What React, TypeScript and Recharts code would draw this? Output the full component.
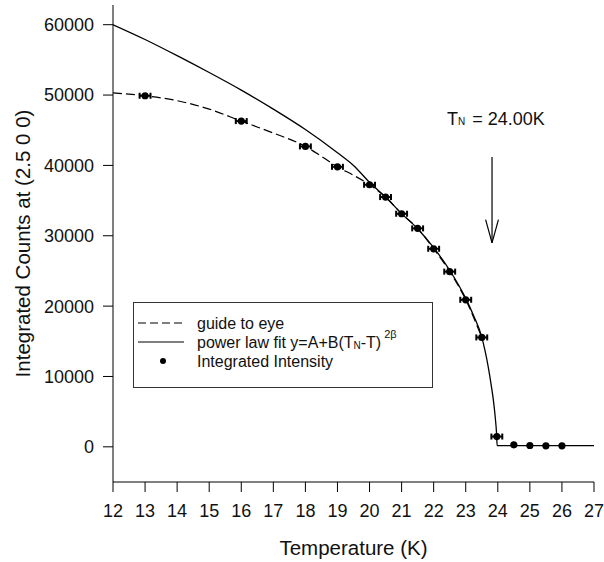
import React from 'react';
import { ComposedChart, Line, Scatter, XAxis, YAxis, ReferenceLine, ErrorBar } from 'recharts';

const FONT = '"Liberation Sans", Arial, Helvetica, sans-serif';

const xTicks = [12, 13, 14, 15, 16, 17, 18, 19, 20, 21, 22, 23, 24, 25, 26, 27];
const yTicks = [0, 10000, 20000, 30000, 40000, 50000, 60000];

// guide to eye (dashed)
const guideT = [12, 13, 14, 15, 16, 17, 18, 18.5, 19, 19.5, 20, 20.5, 21, 21.5, 22, 22.5, 23, 23.5];
const guideI = [50300, 49900, 49200, 48000, 46300, 44600, 42700, 41300, 39800, 38600, 37250, 35500, 33130, 31050, 28150, 24900, 20900, 15550];

// power law fit (solid)
const fitT = [12, 13, 14, 15, 16, 17, 18, 19, 19.5, 20, 20.5, 21, 21.5, 22, 22.5, 23, 23.25, 23.5, 23.6, 23.7, 23.8, 23.86, 23.92, 23.96, 23.98, 24.5, 25, 26, 27];
const fitI = [60000, 57900, 55600, 53200, 50700, 48000, 45100, 41800, 40000, 37600, 35500, 33150, 31000, 28300, 25100, 21100, 18600, 15600, 13700, 11400, 8600, 6700, 4200, 2000, 180, 180, 180, 180, 180];

// integrated intensity (points)
const pointT = [13, 16, 18, 19, 20, 20.5, 21, 21.5, 22, 22.5, 23, 23.5, 23.97, 24.5, 25, 25.5, 26];
const pointI = [49900, 46300, 42700, 39800, 37250, 35500, 33130, 31050, 28150, 24900, 20900, 15550, 1460, 280, 190, 140, 140];
const pointErr = [0.17, 0.17, 0.17, 0.17, 0.17, 0.17, 0.17, 0.17, 0.17, 0.17, 0.17, 0.17, 0.17, 0, 0, 0, 0];

// T_N arrow
const arrowT = 23.82;
const arrowTop = 41200;
const arrowTip = 29000;
const arrowHeadTop = 32300;
const arrowHeadHalf = 0.2;

const legendItems = ['guide to eye', 'power law fit', 'Integrated Intensity'];

const guideData = guideT.map((t, i) => ({ t, v: guideI[i] }));
const fitData = fitT.map((t, i) => ({ t, v: fitI[i] }));
const pointData = pointT.map((t, i) => ({ t, v: pointI[i], e: pointErr[i] }));

const Dot = (props: any) => {
  const { cx, cy } = props;
  if (cx == null || cy == null) return null;
  return <circle cx={cx} cy={cy} r={3.6} fill="#000" />;
};

export default function App() {
  return (
    <div style={{ position: 'absolute', left: 0, top: 0, width: 604, height: 562, background: '#fff' }}>
      <ComposedChart width={604} height={562} margin={{ top: 5, right: 10, left: 0, bottom: 0 }}>
        <XAxis
          dataKey="t"
          type="number"
          domain={[12, 27]}
          ticks={xTicks}
          interval={0}
          allowDataOverflow
          tickSize={10}
          tickMargin={12}
          height={80}
          stroke="#000"
          tick={{ fontSize: 18, fill: '#111', fontFamily: FONT }}
          label={{ value: 'Temperature (K)', position: 'insideBottom', offset: 7, style: { fontSize: 20.5, fill: '#111', fontFamily: FONT } }}
        />
        <XAxis xAxisId="top" orientation="top" type="number" domain={[12, 27]} tick={false} tickLine={false} height={0} stroke="#000" />
        <YAxis
          type="number"
          domain={[-5000, 62800]}
          ticks={yTicks}
          interval={0}
          allowDataOverflow
          width={113}
          tickSize={10}
          tickMargin={9}
          stroke="#000"
          tick={{ fontSize: 18, fill: '#111', fontFamily: FONT }}
          label={{
            content: (p: any) => {
              const vb = p.viewBox || {};
              const cy = (vb.y ?? 5) + (vb.height ?? 477) / 2;
              return (
                <text x={22} y={cy} transform={`rotate(-90 22 ${cy})`} textAnchor="middle" dominantBaseline="central" fontSize={20.5} fill="#111" fontFamily={FONT}>
                  Integrated Counts at (2.5 0 0)
                </text>
              );
            },
          }}
        />
        <YAxis yAxisId="right" orientation="right" type="number" domain={[-5000, 62800]} tick={false} tickLine={false} width={0} stroke="#000" />
        <Line data={guideData} dataKey="v" name="guide to eye" type="monotone" stroke="#000" strokeWidth={1.2} strokeDasharray="9 4" dot={false} isAnimationActive={false} />
        <Line data={fitData} dataKey="v" name="power law fit" type="monotone" stroke="#000" strokeWidth={1.3} dot={false} isAnimationActive={false} />
        <Scatter data={pointData} dataKey="v" name="Integrated Intensity" fill="#000" shape={<Dot />} isAnimationActive={false}>
          <ErrorBar dataKey="e" direction="x" width={3} stroke="#000" strokeWidth={2} />
        </Scatter>
        <ReferenceLine segment={[{ x: arrowT, y: arrowTop }, { x: arrowT, y: arrowTip }]} stroke="#000" strokeWidth={1.2} />
        <ReferenceLine segment={[{ x: arrowT - arrowHeadHalf, y: arrowHeadTop }, { x: arrowT, y: arrowTip }]} stroke="#000" strokeWidth={1.2} />
        <ReferenceLine segment={[{ x: arrowT + arrowHeadHalf, y: arrowHeadTop }, { x: arrowT, y: arrowTip }]} stroke="#000" strokeWidth={1.2} />
      </ComposedChart>
      <svg width={604} height={562} style={{ position: 'absolute', left: 0, top: 0, pointerEvents: 'none' }}>
        <text x={447} y={125} fontFamily={FONT} fontSize={18} fill="#111">
          T<tspan fontSize={10}>N</tspan><tspan dx={2}> = 24.00K</tspan>
        </text>
        <g transform="translate(133,302)">
          <rect x={0.5} y={0.5} width={299} height={85} fill="#fff" stroke="#333" strokeWidth={1} />
          <line x1={5} y1={21} x2={51} y2={21} stroke="#000" strokeWidth={1.2} strokeDasharray="8 4" />
          <text x={64} y={26.5} fontFamily={FONT} fontSize={16} fill="#111">{legendItems[0]}</text>
          <line x1={5} y1={40} x2={51} y2={40} stroke="#000" strokeWidth={1.2} />
          <text x={64} y={45.5} fontFamily={FONT} fontSize={16} fill="#111">
            {legendItems[1]} y=A+B(T<tspan fontSize={10} dy={1}>N</tspan><tspan dy={-1}>-T)</tspan>
            <tspan fontSize={11} dx={3} dy={-10}>2β</tspan>
          </text>
          <circle cx={30} cy={59} r={3} fill="#000" />
          <text x={64} y={65} fontFamily={FONT} fontSize={16} fill="#111">{legendItems[2]}</text>
        </g>
      </svg>
    </div>
  );
}
